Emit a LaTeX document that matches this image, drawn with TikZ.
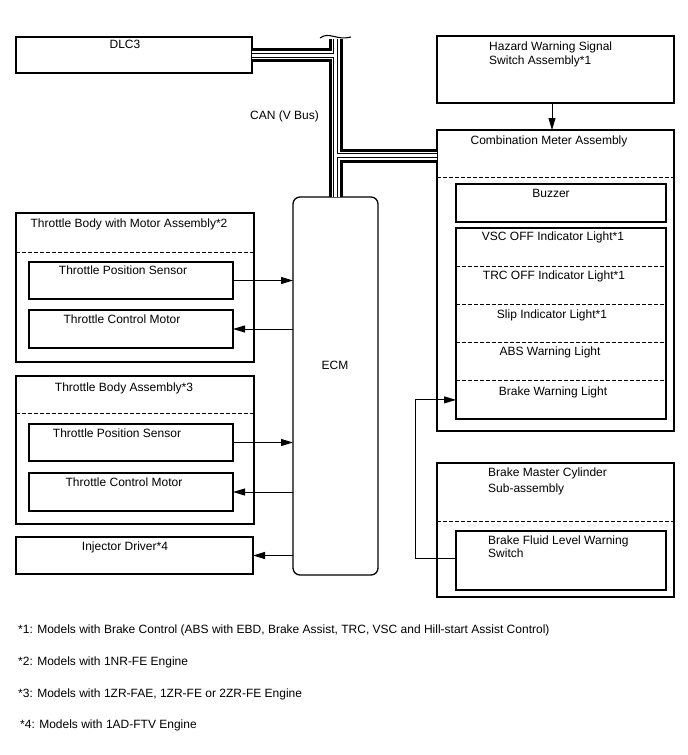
\documentclass[tikz,border=0pt]{standalone}
\usepackage{fontspec}
\setmainfont{Liberation Sans}
\usetikzlibrary{arrows.meta}
\usetikzlibrary{positioning}

\tikzset{
  box/.style={draw, line width=1.3pt, rectangle, anchor=north west, inner sep=0pt, outer sep=0pt},
  row/.style={rectangle, anchor=north west, inner sep=0pt, outer sep=0pt, minimum width=210pt, minimum height=38.2pt},
  sep/.style={line width=0.9pt, dash pattern=on 4pt off 2pt},
  sig/.style={line width=0.9pt, -{Triangle[length=12pt,width=7pt]}},
  txt/.style={anchor=base, inner sep=0pt, font=\fontsize{12}{14}\selectfont},
  ltxt/.style={txt, anchor=base west},
}

\begin{document}
\begin{tikzpicture}[x=1pt, y=-1pt]
\useasboundingbox (0,0) rectangle (688,755);
% left side boxes
\node[box, minimum width=236pt, minimum height=36pt] (dlc) at (16,37) {};
\node[box, minimum width=238pt, minimum height=149pt] (tbm) at (16,213) {};
\node[box, minimum width=204pt, minimum height=37pt] (tps1) at (29,262) {};
\node[box, minimum width=204pt, minimum height=38pt] (tcm1) at (29,310) {};
\node[box, minimum width=238pt, minimum height=148pt] (tba) at (16,376) {};
\node[box, minimum width=204pt, minimum height=37pt] (tps2) at (29,424) {};
\node[box, minimum width=204pt, minimum height=38pt] (tcm2) at (29,473) {};
\node[box, minimum width=237pt, minimum height=37pt] (inj) at (16,537) {};
\draw[sep] ([yshift=-39pt]tbm.north west) -- ([yshift=-39pt]tbm.north east);
\draw[sep] ([yshift=-37pt]tba.north west) -- ([yshift=-37pt]tba.north east);
% ECM
\node[box, rounded corners=7pt, minimum width=85pt, minimum height=378pt] (ecm) at (293,197) {};
% right side boxes
\node[box, minimum width=237pt, minimum height=67pt] (haz) at (437,36) {};
\node[box, minimum width=237pt, minimum height=301pt] (meter) at (437,130) {};
\node[box, minimum width=210pt, minimum height=38pt] (buz) at (456,184) {};
\node[box, minimum width=210pt, minimum height=191pt] (lights) at (456,228) {};
\node[row] (row1) at (456,228) {};
\node[row, below=0pt of row1] (row2) {};
\node[row, below=0pt of row2] (row3) {};
\node[row, below=0pt of row3] (row4) {};
\node[row, below=0pt of row4] (row5) {};
\foreach \r in {row1,row2,row3,row4}
  \draw[sep] (\r.south west) -- (\r.south east);
\draw[sep] ([yshift=-47pt]meter.north west) -- ([yshift=-47pt]meter.north east);
\node[box, minimum width=237pt, minimum height=134pt] (bmc) at (437,463) {};
\node[box, minimum width=210pt, minimum height=59pt] (bfl) at (456,531) {};
\draw[sep] ([yshift=-58pt]bmc.north west) -- ([yshift=-58pt]bmc.north east);

% CAN bus
\coordinate (bustop) at (ecm.north |- 0,39);
\coordinate (meterbus) at (meter.west |- 0,155.5);
\foreach \w/\c in {14pt/black, 8pt/white, 5pt/black, 3pt/white}
  \draw[line width=\w, draw=\c] (dlc.east) -| (ecm.north)
    (bustop) -- (bustop |- dlc.east)
    (bustop |- meterbus) -- (meterbus);
\draw[line width=1.1pt] (320,38) .. controls (329,31) and (337,41) .. (351,37);

% signals
\draw[sig] (tps1.east) -- (tps1.east -| ecm.west);
\draw[sig] (ecm.west |- tcm1.east) -- (tcm1.east);
\draw[sig] (tps2.east) -- (tps2.east -| ecm.west);
\draw[sig] (ecm.west |- tcm2.east) -- (tcm2.east);
\draw[sig] (ecm.west |- inj.east) -- (inj.east);
\draw[sig] ([xshift=-3.5pt]haz.south) -- ([xshift=-3.5pt]haz.south |- meter.north);
\draw[sig] ([yshift=2pt]bfl.west) -- ++(-41,0) |- (row5.west);

% labels
\node[txt] (dlcT) at (125,48) {DLC3};
\node[ltxt] (canT) at (250,119) {CAN (V Bus)};
\node[txt] (tbmT) at (129,227) {Throttle Body with Motor Assembly*2};
\node[txt] (tps1T) at (123,274) {Throttle Position Sensor};
\node[txt] (tcm1T) at (122,323) {Throttle Control Motor};
\node[txt] (tbaT) at (124,391) {Throttle Body Assembly*3};
\node[txt] (tps2T) at (117,437) {Throttle Position Sensor};
\node[txt] (tcm2T) at (124,486) {Throttle Control Motor};
\node[txt] (injT) at (125,550) {Injector Driver*4};
\node[txt] (ecmT) at (335,369) {ECM};
\node[ltxt] (hazT1) at (489,50) {Hazard Warning Signal};
\node[ltxt] (hazT2) at (489,64) {Switch Assembly*1};
\node[txt] (meterT) at (549,144) {Combination Meter Assembly};
\node[txt] (buzT) at (551,197) {Buzzer};
\node[txt] (vscT) at (553,240) {VSC OFF Indicator Light*1};
\node[txt] (trcT) at (554,279) {TRC OFF Indicator Light*1};
\node[txt] (slipT) at (552,318) {Slip Indicator Light*1};
\node[txt] (absT) at (550,355) {ABS Warning Light};
\node[txt] (bwlT) at (553,395) {Brake Warning Light};
\node[ltxt] (bmcT1) at (488,476) {Brake Master Cylinder};
\node[ltxt] (bmcT2) at (488,492) {Sub-assembly};
\node[ltxt] (bflT1) at (488,544) {Brake Fluid Level Warning};
\node[ltxt] (bflT2) at (488,557) {Switch};

% notes
\node[ltxt] (note1) at (18,633) {*1: Models with Brake Control (ABS with EBD, Brake Assist, TRC, VSC and Hill-start Assist Control)};
\node[ltxt] (note2) at (18,665) {*2: Models with 1NR-FE Engine};
\node[ltxt] (note3) at (18,697) {*3: Models with 1ZR-FAE, 1ZR-FE or 2ZR-FE Engine};
\node[ltxt] (note4) at (20,728) {*4: Models with 1AD-FTV Engine};
\end{tikzpicture}
\end{document}
